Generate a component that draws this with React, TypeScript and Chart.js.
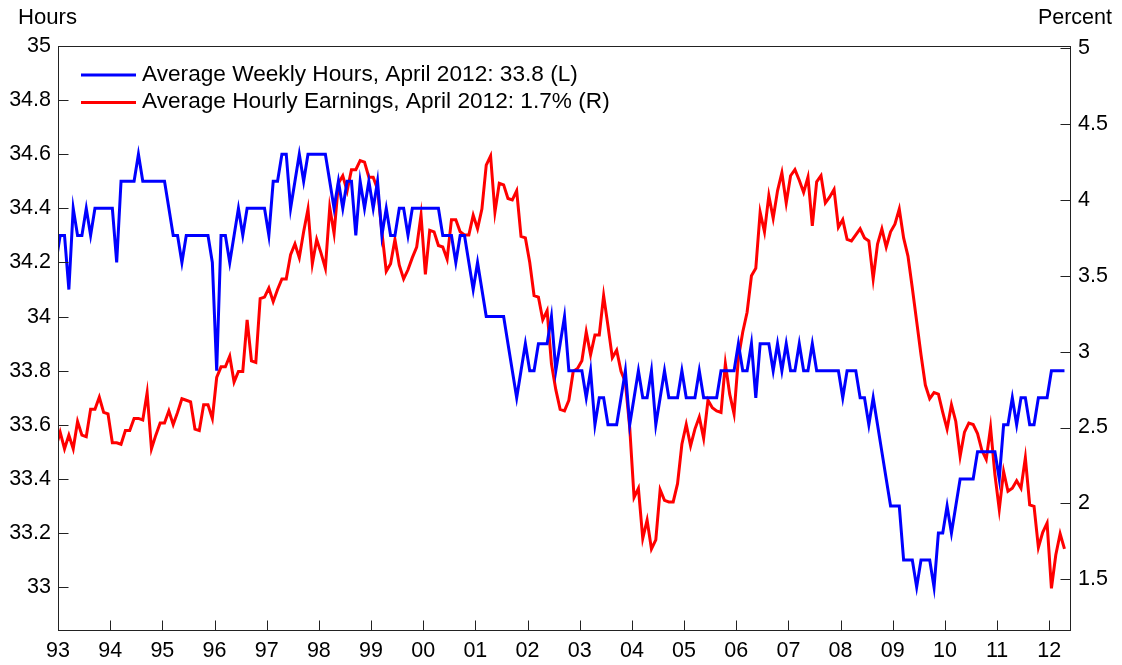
import { useEffect, useRef } from 'react';
import { Chart, registerables } from 'chart.js';

Chart.register(...registerables);

// Year tick labels (one every 12 months, starting Jan 1993)
const yearLabels = ['93', '94', '95', '96', '97', '98', '99', '00', '01', '02', '03', '04', '05', '06', '07', '08', '09', '10', '11', '12'];
const hoursTicks = [33, 33.2, 33.4, 33.6, 33.8, 34, 34.2, 34.4, 34.6, 34.8, 35];
const percentTicks = [1.5, 2, 2.5, 3, 3.5, 4, 4.5, 5];
const legendLabels = [
  'Average Weekly Hours, April 2012: 33.8 (L)',
  'Average Hourly Earnings, April 2012: 1.7% (R)',
];
const axisTitles = ['Hours', 'Percent'];

// Monthly, Dec 1992 .. Apr 2012 (first value lies just left of the axis and is clipped)
const weeklyHours = [
  34.2,
  34.3, 34.3, 34.1, 34.4, 34.3, 34.3, 34.4, 34.3, 34.4, 34.4,
  34.4, 34.4, 34.4, 34.2, 34.5, 34.5, 34.5, 34.5, 34.6, 34.5,
  34.5, 34.5, 34.5, 34.5, 34.5, 34.4, 34.3, 34.3, 34.2, 34.3,
  34.3, 34.3, 34.3, 34.3, 34.3, 34.2, 33.8, 34.3, 34.3, 34.2,
  34.3, 34.4, 34.3, 34.4, 34.4, 34.4, 34.4, 34.4, 34.3, 34.5,
  34.5, 34.6, 34.6, 34.4, 34.5, 34.6, 34.5, 34.6, 34.6, 34.6,
  34.6, 34.6, 34.5, 34.4, 34.5, 34.4, 34.5, 34.5, 34.3, 34.5,
  34.4, 34.5, 34.4, 34.5, 34.3, 34.4, 34.3, 34.3, 34.4, 34.4,
  34.3, 34.4, 34.4, 34.4, 34.4, 34.4, 34.4, 34.4, 34.3, 34.3,
  34.3, 34.2, 34.3, 34.3, 34.2, 34.1, 34.2, 34.1, 34.0, 34.0,
  34.0, 34.0, 34.0, 33.9, 33.8, 33.7, 33.8, 33.9, 33.8, 33.8,
  33.9, 33.9, 33.9, 34.0, 33.8, 33.9, 34.0, 33.8, 33.8, 33.8,
  33.8, 33.7, 33.8, 33.6, 33.7, 33.7, 33.6, 33.6, 33.6, 33.7,
  33.8, 33.6, 33.7, 33.8, 33.7, 33.7, 33.8, 33.6, 33.7, 33.8,
  33.7, 33.7, 33.7, 33.8, 33.7, 33.7, 33.7, 33.8, 33.7, 33.7,
  33.7, 33.7, 33.8, 33.8, 33.8, 33.8, 33.9, 33.8, 33.8, 33.9,
  33.7, 33.9, 33.9, 33.9, 33.8, 33.9, 33.8, 33.9, 33.8, 33.8,
  33.9, 33.8, 33.8, 33.9, 33.8, 33.8, 33.8, 33.8, 33.8, 33.8,
  33.7, 33.8, 33.8, 33.8, 33.7, 33.7, 33.6, 33.7, 33.6, 33.5,
  33.4, 33.3, 33.3, 33.3, 33.1, 33.1, 33.1, 33.0, 33.1, 33.1,
  33.1, 33.0, 33.2, 33.2, 33.3, 33.2, 33.3, 33.4, 33.4, 33.4,
  33.4, 33.5, 33.5, 33.5, 33.5, 33.5, 33.4, 33.6, 33.6, 33.7,
  33.6, 33.7, 33.7, 33.6, 33.6, 33.7, 33.7, 33.7, 33.8, 33.8,
  33.8, 33.8,
];

const hourlyEarnings = [
  2.37,
  2.47, 2.36, 2.45, 2.36, 2.54, 2.45, 2.44, 2.62, 2.62, 2.70,
  2.60, 2.59, 2.40, 2.40, 2.39, 2.48, 2.48, 2.56, 2.56, 2.55,
  2.73, 2.36, 2.45, 2.53, 2.53, 2.61, 2.52, 2.60, 2.69, 2.68,
  2.67, 2.49, 2.48, 2.65, 2.65, 2.56, 2.83, 2.90, 2.90, 2.97,
  2.80, 2.87, 2.87, 3.21, 2.94, 2.93, 3.35, 3.36, 3.42, 3.33,
  3.41, 3.48, 3.48, 3.64, 3.71, 3.62, 3.79, 3.94, 3.58, 3.74,
  3.65, 3.55, 3.95, 3.78, 4.11, 4.16, 4.06, 4.20, 4.20, 4.26,
  4.25, 4.15, 4.15, 4.07, 3.79, 3.53, 3.58, 3.74, 3.57, 3.48,
  3.54, 3.62, 3.69, 3.90, 3.51, 3.80, 3.79, 3.70, 3.69, 3.61,
  3.87, 3.87, 3.79, 3.77, 3.77, 3.90, 3.81, 3.94, 4.23, 4.29,
  3.92, 4.11, 4.10, 4.01, 4.00, 4.06, 3.76, 3.75, 3.59, 3.37,
  3.36, 3.21, 3.27, 2.92, 2.75, 2.62, 2.61, 2.68, 2.87, 2.89,
  2.94, 3.13, 2.98, 3.11, 3.11, 3.37, 3.17, 2.96, 3.01, 2.87,
  2.80, 2.50, 2.04, 2.10, 1.77, 1.89, 1.70, 1.76, 2.09, 2.02,
  2.01, 2.01, 2.13, 2.39, 2.52, 2.38, 2.49, 2.57, 2.43, 2.68,
  2.63, 2.61, 2.60, 2.92, 2.72, 2.59, 2.96, 3.13, 3.26, 3.50,
  3.55, 3.92, 3.79, 4.03, 3.88, 4.06, 4.18, 3.98, 4.16, 4.20,
  4.13, 4.05, 4.15, 3.83, 4.12, 4.16, 3.98, 4.02, 4.07, 3.82,
  3.87, 3.74, 3.73, 3.77, 3.81, 3.75, 3.73, 3.48, 3.71, 3.81,
  3.69, 3.79, 3.84, 3.94, 3.75, 3.63, 3.42, 3.20, 2.98, 2.78,
  2.69, 2.73, 2.72, 2.60, 2.49, 2.65, 2.54, 2.31, 2.47, 2.53,
  2.52, 2.46, 2.35, 2.29, 2.50, 2.19, 1.96, 2.21, 2.08, 2.10,
  2.15, 2.10, 2.30, 1.99, 1.98, 1.71, 1.81, 1.87, 1.44, 1.66,
  1.80, 1.70,
];

const FONT_FAMILY = '"Liberation Sans", Arial, Helvetica, sans-serif';
const FONT_SIZE = 21.5;
const BLUE = '#0000ff';
const RED = '#ff0000';

// month index from Jan 1993 (Dec 1992 = -1), plotted mid-month
const toPoints = (arr: number[]) => arr.map((v, i) => ({ x: i - 1 + 0.5, y: v }));
const fmt = (v: number) => String(Math.round(v * 10) / 10);

const decorPlugin = {
  id: 'decor',
  afterDraw(chart: any) {
    const { ctx, chartArea: a, scales } = chart;
    ctx.save();
    // frame
    ctx.strokeStyle = '#222';
    ctx.lineWidth = 1;
    const L = Math.round(a.left) + 0.5;
    const R = Math.round(a.right) - 0.5;
    const T = Math.round(a.top) + 0.5;
    const B = Math.round(a.bottom) - 0.5;
    ctx.strokeRect(L, T, R - L, B - T);
    const tl = 10;
    ctx.beginPath();
    hoursTicks.forEach((v) => {
      const y = Math.round(scales.yL.getPixelForValue(v)) + 0.5;
      ctx.moveTo(L, y);
      ctx.lineTo(L + tl, y);
    });
    percentTicks.forEach((v) => {
      const y = Math.round(scales.yR.getPixelForValue(v)) + 0.5;
      ctx.moveTo(R, y);
      ctx.lineTo(R - tl, y);
    });
    yearLabels.forEach((_, k) => {
      const x = Math.round(scales.x.getPixelForValue(k * 12)) + 0.5;
      ctx.moveTo(x, B);
      ctx.lineTo(x, B - tl);
    });
    ctx.stroke();

    // axis titles
    ctx.fillStyle = '#000';
    ctx.font = `${FONT_SIZE}px ${FONT_FAMILY}`;
    ctx.textBaseline = 'middle';
    ctx.textAlign = 'left';
    ctx.save();
    ctx.translate(18, 18);
    ctx.scale(1.03, 1);
    ctx.fillText(axisTitles[0], 0, 0);
    ctx.restore();
    ctx.textAlign = 'right';
    ctx.fillText(axisTitles[1], 1112, 18);

    // legend
    const colors = [BLUE, RED];
    const ys = [75, 102.5];
    legendLabels.forEach((label, i) => {
      ctx.strokeStyle = colors[i];
      ctx.lineWidth = 3;
      ctx.beginPath();
      ctx.moveTo(81, ys[i]);
      ctx.lineTo(136, ys[i]);
      ctx.stroke();
      ctx.fillStyle = '#000';
      ctx.textAlign = 'left';
      ctx.save();
      ctx.translate(142, ys[i]);
      ctx.scale(1.053, 1);
      ctx.fillText(label, 0, 0);
      ctx.restore();
    });
    ctx.restore();
  },
};

export default function App() {
  const canvasRef = useRef<HTMLCanvasElement | null>(null);

  useEffect(() => {
    if (!canvasRef.current) return;
    const font = { family: FONT_FAMILY, size: FONT_SIZE };
    const chart = new Chart(canvasRef.current, {
      type: 'line',
      data: {
        datasets: [
          {
            label: legendLabels[0],
            data: toPoints(weeklyHours),
            yAxisID: 'yL',
            borderColor: BLUE,
            backgroundColor: BLUE,
            borderWidth: 3,
            pointRadius: 0,
            tension: 0,
            fill: false,
          },
          {
            label: legendLabels[1],
            data: toPoints(hourlyEarnings),
            yAxisID: 'yR',
            borderColor: RED,
            backgroundColor: RED,
            borderWidth: 3,
            pointRadius: 0,
            tension: 0,
            fill: false,
          },
        ],
      },
      options: {
        animation: false,
        responsive: false,
        maintainAspectRatio: false,
        devicePixelRatio: 1,
        layout: { padding: { top: 46, left: 0, right: 0, bottom: 0 } },
        plugins: {
          legend: { display: false },
          tooltip: { enabled: false },
          title: { display: false },
        },
        scales: {
          x: {
            type: 'linear',
            min: 0,
            max: 233,
            grid: { display: false, drawTicks: false },
            border: { display: false },
            afterBuildTicks: (s: any) => {
              s.ticks = yearLabels.map((_, k) => ({ value: k * 12 }));
            },
            afterFit: (s: any) => {
              s.height = 34;
            },
            ticks: {
              autoSkip: false,
              maxRotation: 0,
              minRotation: 0,
              padding: 7,
              color: '#000',
              font,
              callback: (_v: any, i: number) => yearLabels[i],
            },
          },
          yL: {
            type: 'linear',
            position: 'left',
            min: 32.838,
            max: 35,
            grid: { display: false, drawTicks: false },
            border: { display: false },
            afterBuildTicks: (s: any) => {
              s.ticks = hoursTicks.map((v) => ({ value: v }));
            },
            afterFit: (s: any) => {
              s.width = 58;
            },
            ticks: {
              padding: 7,
              color: '#000',
              font,
              callback: (v: any) => fmt(Number(v)),
            },
          },
          yR: {
            type: 'linear',
            position: 'right',
            min: 1.159,
            max: 5.015,
            grid: { display: false, drawTicks: false },
            border: { display: false },
            afterBuildTicks: (s: any) => {
              s.ticks = percentTicks.map((v) => ({ value: v }));
            },
            afterFit: (s: any) => {
              s.width = 51;
            },
            ticks: {
              padding: 7,
              color: '#000',
              font,
              callback: (v: any) => fmt(Number(v)),
            },
          },
        },
      } as any,
      plugins: [decorPlugin],
    });
    return () => chart.destroy();
  }, []);

  return (
    <div style={{ position: 'absolute', left: 0, top: 0, width: 1122, height: 665, background: '#fff' }}>
      <canvas ref={canvasRef} width={1122} height={665} style={{ display: 'block', width: 1122, height: 665 }} />
    </div>
  );
}
